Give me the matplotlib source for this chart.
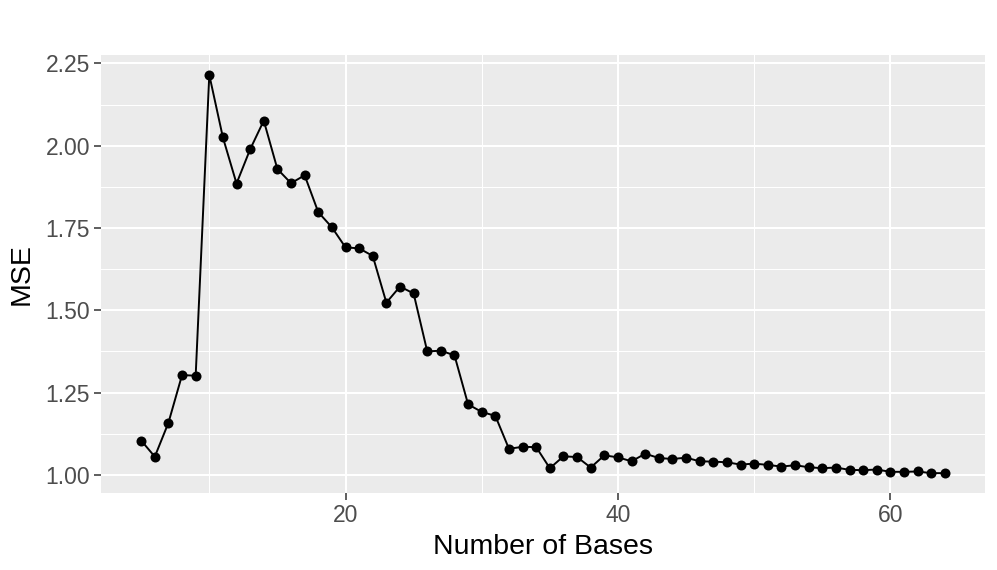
import numpy as np
import matplotlib
matplotlib.use("Agg")
import matplotlib.pyplot as plt

plt.rcParams["font.family"] = ["Liberation Sans", "DejaVu Sans"]

# number of bases and the corresponding mean squared error
n_bases = list(range(5, 65))
mse = [
    1.104, 1.055, 1.158, 1.303, 1.301, 2.215, 2.025, 1.885, 1.989, 2.076,
    1.929, 1.886, 1.910, 1.798, 1.752, 1.691, 1.688, 1.665, 1.523, 1.572,
    1.551, 1.375, 1.377, 1.363, 1.214, 1.191, 1.179, 1.079, 1.085, 1.084,
    1.020, 1.056, 1.054, 1.022, 1.059, 1.053, 1.041, 1.064, 1.051, 1.048,
    1.052, 1.041, 1.040, 1.038, 1.031, 1.034, 1.030, 1.025, 1.029, 1.023,
    1.020, 1.022, 1.015, 1.014, 1.016, 1.009, 1.009, 1.010, 1.005, 1.005,
]

x_major = [20, 40, 60]
x_minor = [10, 30, 50]
y_major = [1.00, 1.25, 1.50, 1.75, 2.00, 2.25]
y_minor = [1.125, 1.375, 1.625, 1.875, 2.125]

fig = plt.figure(figsize=(9.97, 5.70), dpi=100)
ax = fig.add_axes([0.1013, 0.135, 0.8867, 0.7685])
ax.set_facecolor("#EBEBEB")
for s in ax.spines.values():
    s.set_visible(False)

# ggplot-like grid
for v in x_minor:
    ax.axvline(v, color="white", lw=0.75, zorder=0)
for v in y_minor:
    ax.axhline(v, color="white", lw=0.75, zorder=0)
for v in x_major:
    ax.axvline(v, color="white", lw=1.5, zorder=0)
for v in y_major:
    ax.axhline(v, color="white", lw=1.5, zorder=0)

ax.plot(n_bases, mse, color="black", lw=1.4, zorder=2)
ax.scatter(n_bases, mse, s=52, color="black", zorder=3, linewidths=0)

lo, hi = min(n_bases), max(n_bases)
pad = (hi - lo) * 0.05
ax.set_xlim(lo - pad, hi + pad)
ylo, yhi = min(mse), max(mse)
ypad = (yhi - ylo) * 0.05
ax.set_ylim(ylo - ypad, yhi + ypad)

ax.set_xticks(x_major)
ax.set_yticks(y_major)
ax.set_yticklabels([f"{v:.2f}" for v in y_major])
ax.tick_params(axis="both", length=5, width=1.1, color="#333333",
               labelcolor="#4D4D4D", labelsize=16.5, pad=3)

ax.set_xlabel("Number of Bases", fontsize=20.5, color="black", labelpad=5)
ax.set_ylabel("MSE", fontsize=20.5, color="black", labelpad=8)

fig.savefig("out.png", dpi=100)
